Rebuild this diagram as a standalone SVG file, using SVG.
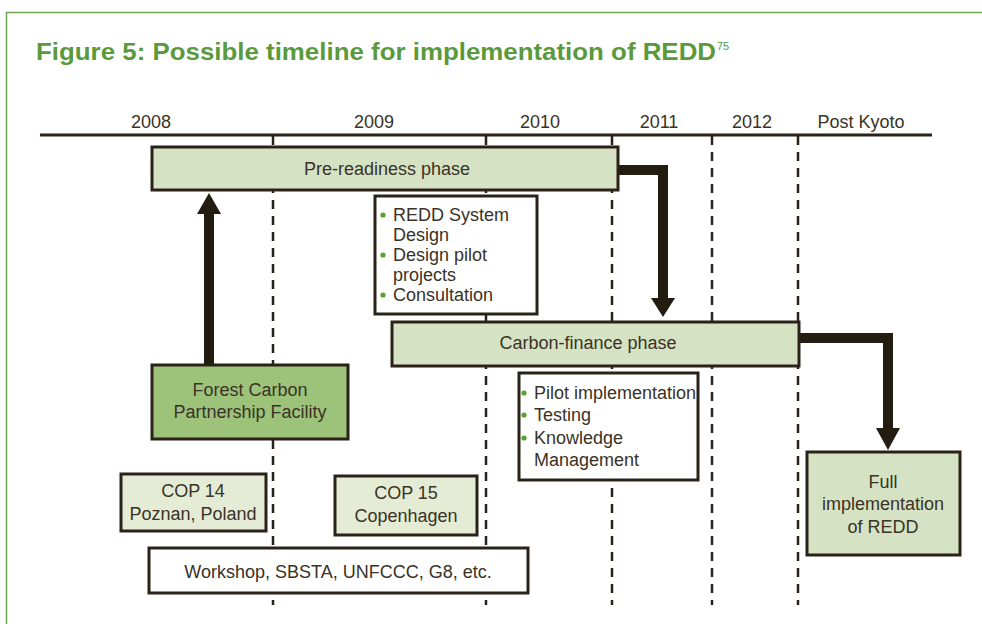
<svg xmlns="http://www.w3.org/2000/svg" width="982" height="624" viewBox="0 0 982 624">
<style>
text{font-family:"Liberation Sans",Arial,sans-serif;fill:#3a3226;font-size:18px}
.c{text-anchor:middle}
.box{stroke:#2a2218;stroke-width:3}
.ph{fill:#d6e2c4}
.cop{fill:#e5ecd6}
.fc{fill:#9dc27a}
.wh{fill:#ffffff}
.dash{stroke:#2a2218;stroke-width:2.5;stroke-dasharray:9 7;fill:none}
.arr{stroke:#231c10;stroke-width:10;fill:none}
.ah{fill:#231c10}
.bul{fill:#5aa02c}
</style>
<rect x="0" y="0" width="982" height="624" fill="#ffffff"/>
<path d="M6.5 624 V12.5 H982" fill="none" stroke="#6aa84f" stroke-width="1.5"/>
<text x="36" y="60" style="font-size:23.5px;font-weight:bold;fill:#5a9a3c" textLength="680" lengthAdjust="spacingAndGlyphs">Figure 5: Possible timeline for implementation of REDD</text>
<text x="717" y="50" style="font-size:11px;fill:#5a9a3c">75</text>

<g id="timeline">
<line x1="40" y1="135" x2="932" y2="135" stroke="#2a2218" stroke-width="3"/>
<text class="c" x="151" y="128">2008</text>
<text class="c" x="374" y="128">2009</text>
<text class="c" x="540" y="128">2010</text>
<text class="c" x="659" y="128">2011</text>
<text class="c" x="752" y="128">2012</text>
<text class="c" x="861" y="128">Post Kyoto</text>
<line class="dash" x1="273" y1="136" x2="273" y2="605"/>
<line class="dash" x1="486" y1="136" x2="486" y2="605"/>
<line class="dash" x1="612" y1="136" x2="612" y2="605"/>
<line class="dash" x1="712" y1="136" x2="712" y2="605"/>
<line class="dash" x1="798" y1="136" x2="798" y2="605"/>
</g>

<g id="connectors">
<path class="arr" d="M618 170 H663 V300"/>
<polygon class="ah" points="651,298 675,298 663,317"/>
<path class="arr" d="M799 338 H888 V430"/>
<polygon class="ah" points="876,428 900,428 888,450"/>
<path class="arr" d="M209 365 V212"/>
<polygon class="ah" points="197,214 221,214 209,193"/>
</g>

<g id="pre-readiness">
<rect class="box ph" x="152" y="147" width="466" height="43"/>
<text class="c" x="387" y="175">Pre-readiness phase</text>
</g>

<g id="pre-readiness-tasks">
<rect class="box wh" x="375" y="196" width="162" height="118"/>
<circle class="bul" cx="383" cy="215" r="2.6"/>
<circle class="bul" cx="383" cy="255" r="2.6"/>
<circle class="bul" cx="383" cy="295" r="2.6"/>
<text x="393" y="221">REDD System</text>
<text x="393" y="241">Design</text>
<text x="393" y="261">Design pilot</text>
<text x="393" y="281">projects</text>
<text x="393" y="301">Consultation</text>
</g>

<g id="carbon-finance">
<rect class="box ph" x="392" y="322" width="407" height="44"/>
<text class="c" x="588" y="349">Carbon-finance phase</text>
</g>

<g id="carbon-finance-tasks">
<rect class="box wh" x="519" y="373" width="179" height="107"/>
<circle class="bul" cx="524" cy="393" r="2.6"/>
<circle class="bul" cx="524" cy="415" r="2.6"/>
<circle class="bul" cx="524" cy="438" r="2.6"/>
<text x="534" y="399">Pilot implementation</text>
<text x="534" y="421">Testing</text>
<text x="534" y="444">Knowledge</text>
<text x="534" y="466">Management</text>
</g>

<g id="fcpf">
<rect class="box fc" x="152" y="365" width="196" height="74"/>
<text class="c" x="250" y="396">Forest Carbon</text>
<text class="c" x="250" y="418">Partnership Facility</text>
</g>

<g id="cop14">
<rect class="box cop" x="121" y="474" width="145" height="57"/>
<text class="c" x="193" y="497">COP 14</text>
<text class="c" x="193" y="520">Poznan, Poland</text>
</g>

<g id="cop15">
<rect class="box cop" x="335" y="476" width="142" height="59"/>
<text class="c" x="406" y="499">COP 15</text>
<text class="c" x="406" y="522">Copenhagen</text>
</g>

<g id="workshop">
<rect class="box wh" x="149" y="548" width="379" height="45"/>
<text class="c" x="338" y="578">Workshop, SBSTA, UNFCCC, G8, etc.</text>
</g>

<g id="full-implementation">
<rect class="box ph" x="807" y="452" width="153" height="103"/>
<text class="c" x="883" y="488">Full</text>
<text class="c" x="883" y="510">implementation</text>
<text class="c" x="883" y="533">of REDD</text>
</g>
</svg>
